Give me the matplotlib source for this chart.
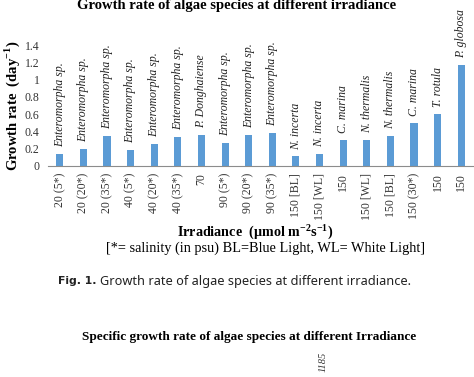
import numpy as np
import matplotlib.pyplot as plt

plt.rcParams['mathtext.fontset'] = 'custom'
plt.rcParams['mathtext.rm'] = 'Liberation Serif'
plt.rcParams['mathtext.bf'] = 'Liberation Serif:bold'

# data
conditions = ['20 (5*)', '20 (20*)', '20 (35*)', '40 (5*)', '40 (20*)', '40 (35*)', '70',
              '90 (5*)', '90 (20*)', '90 (35*)', '150 [BL]', '150 [WL]', '150',
              '150 [WL]', '150 [BL]', '150 (30*)', '150', '150']
species = ['Enteromorpha sp.'] * 6 + ['P. Donghaiense'] + ['Enteromorpha sp.'] * 3 + \
          ['N. incerta', 'N. incerta', 'C. marina', 'N. thermalis', 'N. thermalis',
           'C. marina', 'T. rotula', 'P. globosa']
growth = [0.135, 0.20, 0.345, 0.18, 0.25, 0.34, 0.36, 0.27, 0.355, 0.385,
          0.11, 0.135, 0.305, 0.305, 0.35, 0.50, 0.60, 1.17]
yticks = [0, 0.2, 0.4, 0.6, 0.8, 1, 1.2, 1.4]

W, H = 474, 377
fig = plt.figure(figsize=(W / 100, H / 100), dpi=100)
ax = fig.add_axes([48 / W, 1 - 166 / H, 425 / W, 121 / H])

serif = 'Liberation Serif'
x = np.arange(len(growth))
ax.bar(x, growth, width=0.3, color='#5b9bd5', zorder=2)
for i, (v, s) in enumerate(zip(growth, species)):
    ax.annotate(s, (i, v), xytext=(0, 5), textcoords='offset points', rotation=90,
                ha='center', va='bottom', fontsize=8.5, family=serif, style='italic',
                color='#222222', annotation_clip=False)

ax.set_xlim(-0.5, len(growth) - 0.5)
ax.set_ylim(0, 1.4)
ax.set_yticks(yticks)
ax.set_yticklabels(['0', '0.2', '0.4', '0.6', '0.8', '1', '1.2', '1.4'],
                   family=serif, fontsize=8.5, color='#333333')
ax.set_xticks(x)
ax.set_xticklabels(conditions, rotation=90, family=serif, fontsize=8.5, color='#333333')
ax.tick_params(axis='both', length=0)
ax.tick_params(axis='y', pad=6)
ax.tick_params(axis='x', pad=5)
for sp in ['top', 'right', 'left']:
    ax.spines[sp].set_visible(False)
ax.spines['bottom'].set_color('#8c8c8c')
ax.patch.set_alpha(0)

fig.text(237 / W, 1 - 6 / H, 'Growth rate of algae species at different irradiance',
         ha='center', va='center', family=serif, weight='bold', fontsize=10.5)
fig.text(12 / W, 1 - 106 / H, r'Growth rate  (day$^{\mathbf{-1}}$)', rotation=90,
         ha='center', va='center', family=serif, weight='bold', fontsize=10.5)
fig.text(255 / W, 1 - 232 / H, r'Irradiance  (µmol m$^{\mathbf{-2}}$s$^{\mathbf{-1}}$)',
         ha='center', va='center', family=serif, weight='bold', fontsize=10.2)
fig.text(266 / W, 1 - 248 / H, '[*= salinity (in psu) BL=Blue Light, WL= White Light]',
         ha='center', va='center', family=serif, fontsize=10.3)

fig.text(58 / W, 1 - 281 / H, 'Fig. 1.', ha='left', va='center',
         family='DejaVu Sans', weight='bold', fontsize=7.8, color='#222222')
fig.text(100 / W, 1 - 281 / H, 'Growth rate of algae species at different irradiance.',
         ha='left', va='center', family='Noto Sans', fontsize=9.2, color='#222222')

fig.text(249 / W, 1 - 337 / H, 'Specific growth rate of algae species at different Irradiance',
         ha='center', va='center', family=serif, weight='bold', fontsize=9.5)
fig.text(323 / W, 1 - 352 / H, '1185', rotation=90, ha='center', va='top',
         family=serif, style='italic', fontsize=7.5, color='#333333')

fig.savefig('out.png', dpi=100)
